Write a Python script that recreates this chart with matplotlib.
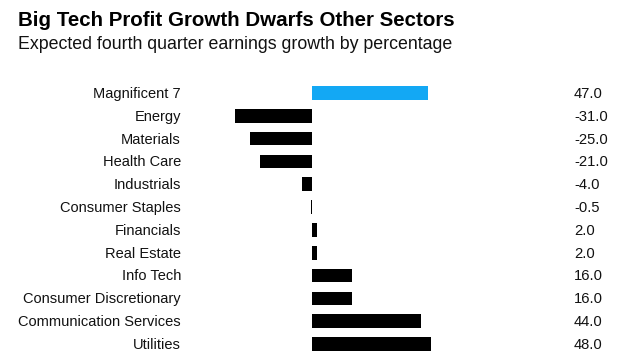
import matplotlib
matplotlib.use("Agg")
import matplotlib.pyplot as plt
from matplotlib.transforms import blended_transform_factory

categories = ["Magnificent 7", "Energy", "Materials", "Health Care", "Industrials",
              "Consumer Staples", "Financials", "Real Estate", "Info Tech",
              "Consumer Discretionary", "Communication Services", "Utilities"]
values = [47.0, -31.0, -25.0, -21.0, -4.0, -0.5, 2.0, 2.0, 16.0, 16.0, 44.0, 48.0]
value_labels = ["47.0", "-31.0", "-25.0", "-21.0", "-4.0", "-0.5", "2.0", "2.0",
                "16.0", "16.0", "44.0", "48.0"]
highlight = "Magnificent 7"

plt.rcParams['font.family'] = ['Liberation Sans', 'DejaVu Sans']

W, H = 619, 364
fig = plt.figure(figsize=(W / 100, H / 100), dpi=100)

px_per_unit = 2.47
zero_px = 312
xmin, xmax = -35, 50
left_px = zero_px + xmin * px_per_unit
right_px = zero_px + xmax * px_per_unit
row0, row_last = 93, 344
step = (row_last - row0) / (len(categories) - 1)
top_px = row0 - 0.5 * step
bot_px = row_last + 0.5 * step

ax = fig.add_axes([left_px / W, 1 - bot_px / H, (right_px - left_px) / W, (bot_px - top_px) / H])
ys = list(range(len(categories)))
colors = ['#13A8F4' if c == highlight else '#000000' for c in categories]
ax.barh(ys, values, height=0.6, color=colors)
ax.set_xlim(xmin, xmax)
ax.set_ylim(len(categories) - 0.5, -0.5)
ax.axis('off')

tr = blended_transform_factory(fig.transFigure, ax.transData)
for y, c, lab in zip(ys, categories, value_labels):
    ax.text(181 / W, y + 0.04, c, transform=tr, ha='right', va='center', fontsize=10.5, color='#111111')
    ax.text(574 / W, y + 0.04, lab, transform=tr, ha='left', va='center', fontsize=10.6, color='#111111')

fig.text(18 / W, 1 - 26 / H, "Big Tech Profit Growth Dwarfs Other Sectors", fontsize=14.8,
         fontweight='bold', ha='left', va='baseline', color='#000000')
fig.text(18 / W, 1 - 49 / H, "Expected fourth quarter earnings growth by percentage", fontsize=12.8,
         ha='left', va='baseline', color='#111111')

fig.savefig("out.png", dpi=100)
